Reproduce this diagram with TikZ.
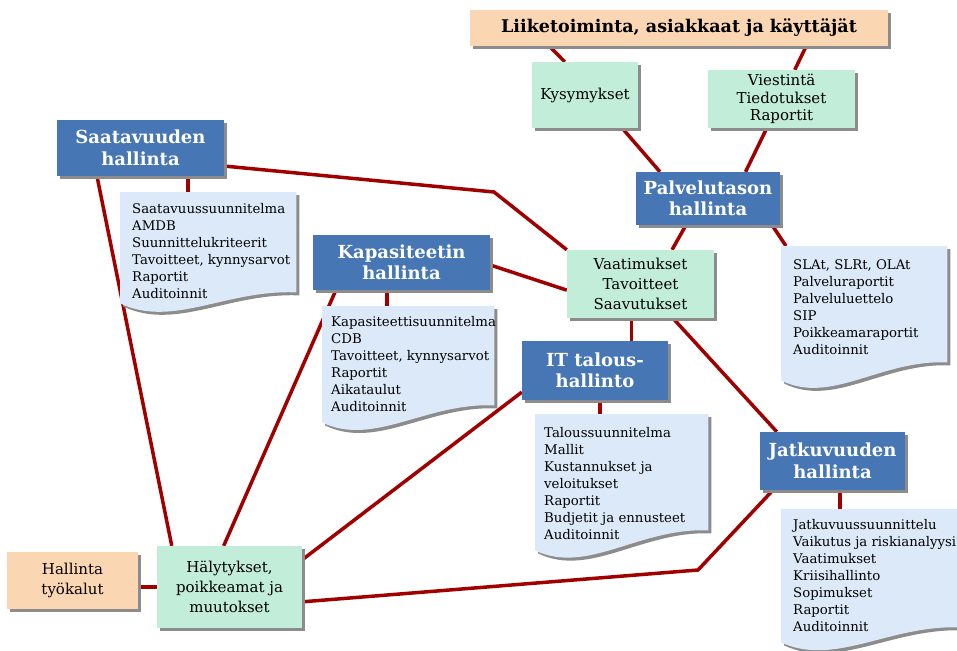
\documentclass[tikz,border=0pt]{standalone}
\usepackage{fontspec}
\setmainfont{DejaVu Serif}
\usetikzlibrary{calc,shadows}

\definecolor{mgmtblue}{HTML}{4676B4}
\definecolor{mint}{HTML}{C1EDD9}
\definecolor{peach}{HTML}{FBD6B3}
\definecolor{docblue}{HTML}{DBE9F8}
\definecolor{linkred}{HTML}{A10000}
\definecolor{shadowgray}{HTML}{8C8C8C}

\pgfdeclarelayer{background}
\pgfsetlayers{background,main}

% outline of a document sheet with a wavy lower edge
% #1: node that spans the sheet, #2: rise of the lower right corner
\newcommand\docoutline[2]{(#1.north west) -- (#1.north east)
  -- ($(#1.south east)+(0,-#2)$)
  .. controls ($(#1.south west)!0.6!(#1.south east)+(0,-#2-3)$)
  and ($(#1.south west)!0.3!(#1.south east)+(0,25)$) .. (#1.south west) -- cycle}
\newcommand\docsheet[2]{%
  \fill[shadowgray, transform canvas={xshift=3pt,yshift=-3pt}] \docoutline{#1}{#2};
  \fill[docblue] \docoutline{#1}{#2};}

\tikzset{
  every node/.style={inner sep=0pt},
  boxshadow/.style={drop shadow={shadow xshift=3pt, shadow yshift=-3pt, fill=shadowgray, opacity=1}},
  bluebox/.style={rectangle, fill=mgmtblue, text=white, align=center, boxshadow,
    font=\bfseries\fontsize{18}{21.5}\selectfont},
  greenbox/.style={rectangle, fill=mint, align=center, boxshadow,
    font=\fontsize{15}{20}\selectfont},
  peachbox/.style={rectangle, fill=peach, align=center, boxshadow,
    font=\fontsize{15}{20}\selectfont},
  docarea/.style={rectangle, anchor=north west},
  doctext/.style={anchor=north west, align=left, font=\fontsize{13.3}{17}\selectfont},
  link/.style={draw=linkred, line width=3.5pt},
}

\begin{document}
\begin{tikzpicture}[x=1pt, y=-1pt]
\useasboundingbox (0,0) rectangle (957,650);

% process boxes
\node[peachbox, font=\bfseries\fontsize{17.5}{20}\selectfont, minimum width=418pt, minimum height=36pt]
  (banner) at (679,28) {Liiketoiminta, asiakkaat ja käyttäjät};
\node[greenbox, minimum width=106pt, minimum height=66pt] (kys) at (585,95) {Kysymykset};
\node[greenbox, font=\fontsize{15}{17.5}\selectfont, minimum width=147pt, minimum height=58pt]
  (vie) at (781.5,99) {Viestintä\\Tiedotukset\\Raportit};
\node[bluebox, minimum width=167pt, minimum height=56pt] (saa) at (140.5,148) {Saatavuuden\\hallinta};
\node[bluebox, minimum width=144pt, minimum height=53pt] (pal) at (708,198.5) {Palvelutason\\hallinta};
\node[greenbox, minimum width=147pt, minimum height=68pt] (vaa) at (640.5,284) {Vaatimukset\\Tavoitteet\\Saavutukset};
\node[bluebox, minimum width=177pt, minimum height=55pt] (kap) at (401.5,262.5) {Kapasiteetin\\hallinta};
\node[bluebox, minimum width=146pt, minimum height=59pt] (it) at (595,370.5) {IT talous-\\hallinto};
\node[bluebox, minimum width=145pt, minimum height=58pt] (jat) at (832.5,461) {Jatkuvuuden\\hallinta};
\node[peachbox, minimum width=131pt, minimum height=57pt] (tools) at (72.5,580.5) {Hallinta\\työkalut};
\node[greenbox, minimum width=145pt, minimum height=82pt] (haly) at (229.5,587) {Hälytykset,\\poikkeamat ja\\muutokset};

% document sheets
\node[docarea, minimum width=176pt, minimum height=111pt] (saadoc) at (120,192) {};
\node[docarea, minimum width=172pt, minimum height=116pt] (kapdoc) at (322,306) {};
\node[docarea, minimum width=173pt, minimum height=136pt] (itdoc) at (535,414) {};
\node[docarea, minimum width=166pt, minimum height=134pt] (sladoc) at (781,246) {};
\node[docarea, minimum width=180pt, minimum height=133pt] (jatdoc) at (781,509) {};
\docsheet{saadoc}{11}
\docsheet{kapdoc}{17}
\docsheet{itdoc}{20}
\docsheet{sladoc}{18}
\docsheet{jatdoc}{15}

\node[doctext] (saatxt) at (132,203) {Saatavuussuunnitelma\\AMDB\\Suunnittelukriteerit\\Tavoitteet, kynnysarvot\\Raportit\\Auditoinnit};
\node[doctext] (kaptxt) at (331,316) {Kapasiteettisuunnitelma\\CDB\\Tavoitteet, kynnysarvot\\Raportit\\Aikataulut\\Auditoinnit};
\node[doctext] (ittxt) at (544,427) {Taloussuunnitelma\\Mallit\\Kustannukset ja\\veloitukset\\Raportit\\Budjetit ja ennusteet\\Auditoinnit};
\node[doctext] (slatxt) at (793,259) {SLAt, SLRt, OLAt\\Palveluraportit\\Palveluluettelo\\SIP\\Poikkeamaraportit\\Auditoinnit};
\node[doctext] (jattxt) at (793,519) {Jatkuvuussuunnittelu\\Vaikutus ja riskianalyysi\\Vaatimukset\\Kriisihallinto\\Sopimukset\\Raportit\\Auditoinnit};

% connectors, kept behind the boxes and sheets
\begin{pgfonlayer}{background}
\draw[link] ($(banner.south west)!0.19!(banner.south east)$) -- ($(kys.north west)!0.31!(kys.north east)$);
\draw[link] ($(kys.south west)!0.85!(kys.south east)$) -- ($(pal.north west)!0.167!(pal.north east)$);
\draw[link] ($(banner.south west)!0.804!(banner.south east)$) -- ($(vie.north west)!0.59!(vie.north east)$);
\draw[link] ($(vie.south west)!0.40!(vie.south east)$) -- ($(pal.north west)!0.76!(pal.north east)$);
\draw[link] ($(pal.south west)!0.347!(pal.south east)$) -- ($(vaa.north west)!0.714!(vaa.north east)$);
\draw[link] ($(pal.south west)!0.944!(pal.south east)$) -- ($(sladoc.north west)!0.03!(sladoc.north east)$);
\draw[link] ($(vaa.south west)!0.72!(vaa.south east)$) -- ($(jat.north west)!0.117!(jat.north east)$);
\draw[link] ($(vaa.south west)!0.44!(vaa.south east)$) coordinate (vaait) -- (vaait |- it.north);
\draw[link] ($(saa.north east)!0.82!(saa.south east)$) -- (494,192) -- (vaa.north west);
\draw[link] ($(kap.north east)!0.545!(kap.south east)$) -- ($(vaa.north west)!0.59!(vaa.south west)$);
\draw[link] ($(saa.south west)!0.784!(saa.south east)$) coordinate (saad) -- (saad |- saadoc.north);
\draw[link] ($(saa.south west)!0.24!(saa.south east)$) -- ($(haly.north west)!0.103!(haly.north east)$);
\draw[link] ($(kap.south west)!0.418!(kap.south east)$) coordinate (kapd) -- (kapd |- kapdoc.north);
\draw[link] ($(kap.south west)!0.13!(kap.south east)$) -- ($(haly.north west)!0.46!(haly.north east)$);
\draw[link] ($(it.north west)!0.864!(it.south west)$) -- ($(haly.north east)!0.17!(haly.south east)$);
\draw[link] ($(it.south west)!0.534!(it.south east)$) coordinate (itd) -- (itd |- itdoc.north);
\draw[link] ($(jat.south west)!0.09!(jat.south east)$) -- (698,570) -- ($(haly.north east)!0.68!(haly.south east)$);
\draw[link] ($(jat.south west)!0.55!(jat.south east)$) coordinate (jatd) -- (jatd |- jatdoc.north);
\draw[link] (tools.east |- haly.west) -- (haly.west);
\end{pgfonlayer}
\end{tikzpicture}
\end{document}
